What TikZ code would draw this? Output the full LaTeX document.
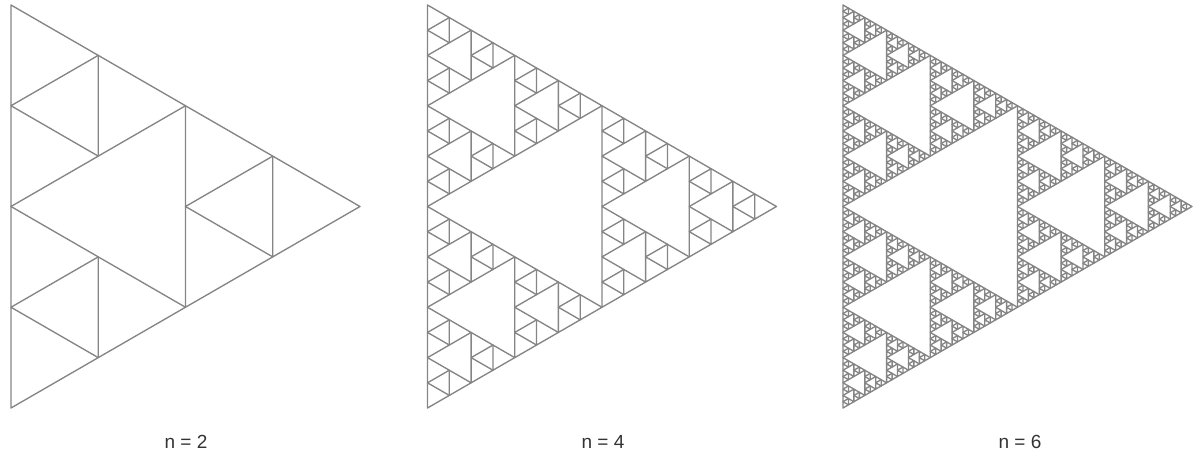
\documentclass[tikz,border=0pt]{standalone}
\usepackage{fontspec}
\setmainfont{Liberation Sans}
\usepackage{tikz}

\definecolor{edgegray}{HTML}{858585}
\definecolor{labelgray}{HTML}{333333}

% one level of the gasket: three half-size copies, corners shared
\newcommand\gasket[1]{%
  \ifnum\numexpr#1\relax=0
    \draw[triedge] (0,0) -- (0,1) -- (0.8660,0.5) -- cycle;
  \else
    \begin{scope}[scale=0.5]\gasket{#1-1}\end{scope}
    \begin{scope}[shift={(0,0.5)},scale=0.5]\gasket{#1-1}\end{scope}
    \begin{scope}[shift={(0.4330,0.25)},scale=0.5]\gasket{#1-1}\end{scope}
  \fi}

\tikzset{
  triedge/.style={draw=edgegray,line width=1.35pt,line join=round},
  caption/.style={font=\fontsize{19}{22}\selectfont,text=labelgray,inner sep=0pt}
}

\begin{document}
\begin{tikzpicture}[x=1pt,y=1pt]

		\useasboundingbox (0,0) rectangle (1193,453);

		% ======================================================
		% n = 2
		% ======================================================
		\begin{scope}[shift={(11,45)},scale=403]
			\gasket{2}
		\end{scope}
		\node[caption] (capA) at (186,11) {n = 2};

		% ======================================================
		% n = 4
		% ======================================================
		\begin{scope}[shift={(427.5,45)},scale=403]
			\gasket{4}
		\end{scope}
		\node[caption] (capB) at (603,11) {n = 4};

		% ======================================================
		% n = 6
		% ======================================================
		\begin{scope}[shift={(843,45)},scale=403]
			\gasket{6}
		\end{scope}
		\node[caption] (capC) at (1020,11) {n = 6};

\end{tikzpicture}
\end{document}
